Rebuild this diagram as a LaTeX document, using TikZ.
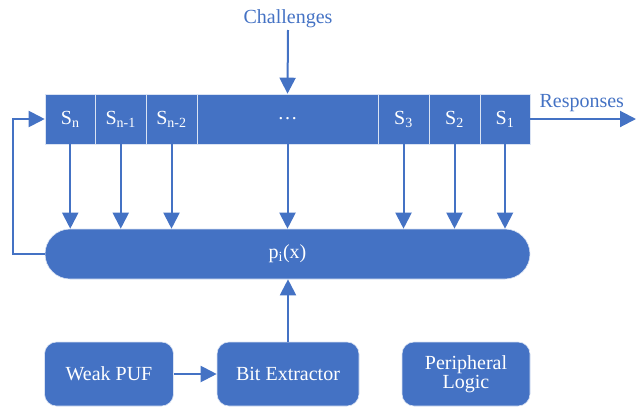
\documentclass[tikz,border=0pt]{standalone}
\usepackage{fontspec}
\setmainfont{Liberation Serif}
\usetikzlibrary{arrows.meta}
\definecolor{blu}{HTML}{4472C4}
\begin{document}
\begin{tikzpicture}[x=1pt,y=-1pt,
  txt/.style={font=\fontsize{20}{22}\selectfont},
  cell/.style={txt,draw=white!80!blu,line width=0.6pt,fill=blu,text=white,minimum height=50pt,inner sep=0pt},
  box/.style={txt,draw=white!80!blu,line width=0.6pt,fill=blu,text=white,rounded corners=12pt,inner sep=0pt,align=center},
  arr/.style={blu,line width=2pt,-{Triangle[width=16pt,length=16pt]}},
  lbl/.style={txt,text=blu}]
\useasboundingbox (0,0) rectangle (636,407);
% register cells
\node[cell,minimum width=50.5pt] (sn) at (70.25,119) {S\textsubscript{n}};
\node[cell,minimum width=51pt] (sn1) at (120.75,119) {S\textsubscript{n-1}};
\node[cell,minimum width=51pt] (sn2) at (171.5,119) {S\textsubscript{n-2}};
\node[cell,minimum width=181pt] (dots) at (287.5,119) {\dots};
\node[cell,minimum width=51pt] (s3) at (403.5,119) {S\textsubscript{3}};
\node[cell,minimum width=51pt] (s2) at (454.5,119) {S\textsubscript{2}};
\node[cell,minimum width=50pt] (s1) at (505,119) {S\textsubscript{1}};
% pill
\node[txt,draw=white!80!blu,line width=0.6pt,fill=blu,text=white,rounded corners=25pt,minimum width=485pt,minimum height=50pt,inner sep=0pt] (p) at (287.5,254) {p\textsubscript{i}(x)};
% bottom boxes
\node[box,minimum width=129pt,minimum height=64pt] (weak) at (109,374) {Weak PUF};
\node[box,minimum width=142pt,minimum height=64pt] (bit) at (288,374) {Bit Extractor};
\node[box,minimum width=128pt,minimum height=64pt] (per) at (466,374) {Peripheral\\[-3pt]Logic};
% labels
\node[lbl,anchor=base] (ch) at (288,23) {Challenges};
\node[lbl,anchor=base west] (resp) at (536,107) {Responses};
\coordinate (chend) at (288,30);
\coordinate (rend) at (636,119);
% arrows
\draw[arr] (chend) -- (dots.north);
\draw[arr] (s1.east) -- (rend);
\foreach \c in {sn,sn1,sn2,dots,s3,s2,s1} \draw[arr] (\c.south) -- (\c.south |- p.north);
\draw[arr] (p.west) -- ++(-32,0) |- (sn.west);
\draw[arr] (weak.east) -- (bit.west);
\draw[arr] (bit.north) -- (p.south -| bit.north);
\end{tikzpicture}
\end{document}
